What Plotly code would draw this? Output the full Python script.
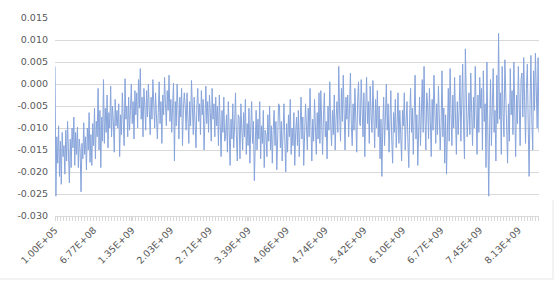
import plotly.graph_objects as go

# ---- data ----
TICK_LABELS = ["1.00E+05", "6.77E+08", "1.35E+09", "2.03E+09", "2.71E+09", "3.39E+09",
               "4.06E+09", "4.74E+09", "5.42E+09", "6.10E+09", "6.77E+09", "7.45E+09", "8.13E+09"]
Y_TICKS = [-0.030, -0.025, -0.020, -0.015, -0.010, -0.005, 0.000, 0.005, 0.010, 0.015]

X_START = 1.0e5
X_END = 8.49e9

VALUES = [
    # 1
    0.0040, -0.0255, -0.0120, -0.0180, -0.0095, -0.0210, -0.0130, -0.0228, -0.0110, -0.0165,
    -0.0140, -0.0205, -0.0105, -0.0175, -0.0085, -0.0155, -0.0225, -0.0125, -0.0190, -0.0100,
    -0.0145, -0.0075, -0.0185, -0.0110, -0.0160,
    -0.0098, -0.0190, -0.0125, -0.0150, -0.0245, -0.0135, -0.0170, -0.0088, -0.0160, -0.0120,
    -0.0195, -0.0100, -0.0150, -0.0065, -0.0178, -0.0115, -0.0185, -0.0090, -0.0140, -0.0055,
    # 2
    -0.0170, -0.0085, -0.0120, -0.0010, -0.0150, -0.0060, -0.0190, -0.0075, -0.0130, 0.0010,
    -0.0135, -0.0055, -0.0110, -0.0025, -0.0145, -0.0065, -0.0100, -0.0005, -0.0120, -0.0050,
    -0.0085, -0.0155, -0.0035, -0.0095, -0.0060,
    -0.0100, -0.0045, -0.0165, -0.0070, -0.0115, -0.0020, -0.0095, -0.0140, 0.0012, -0.0080,
    -0.0050, -0.0120, -0.0030, -0.0105, -0.0060, 0.0000, -0.0090, -0.0040, -0.0125, -0.0015,
    # 3
    -0.0070, -0.0020, -0.0100, 0.0010, -0.0055, 0.0035, -0.0080, -0.0030, -0.0120, -0.0010,
    -0.0050, -0.0105, -0.0015, -0.0075, 0.0000, -0.0060, -0.0115, -0.0030, -0.0080, 0.0010,
    -0.0045, -0.0100, -0.0020, -0.0065, -0.0125,
    -0.0065, 0.0005, -0.0090, -0.0040, -0.0135, -0.0025, -0.0070, 0.0015, -0.0045, -0.0095,
    -0.0015, -0.0060, 0.0020, -0.0085, -0.0035, -0.0110, -0.0050, 0.0002, -0.0175, -0.0040,
    # 4
    -0.0095, 0.0000, -0.0060, -0.0125, -0.0030, -0.0075, -0.0010, -0.0140, -0.0055, -0.0020,
    -0.0050, -0.0105, -0.0020, -0.0080, -0.0135, -0.0040, -0.0095, 0.0008, -0.0065, -0.0115,
    -0.0030, -0.0075, -0.0145, -0.0050, -0.0010,
    -0.0085, -0.0045, -0.0115, -0.0015, -0.0070, -0.0035, -0.0150, -0.0060, -0.0005, -0.0090,
    -0.0040, -0.0110, -0.0025, -0.0065, -0.0130, -0.0010, -0.0080, -0.0045, -0.0120, -0.0030,
    # 5
    -0.0095, -0.0050, -0.0140, -0.0025, -0.0085, -0.0165, -0.0060, -0.0110, -0.0030, -0.0130,
    -0.0120, -0.0070, -0.0155, -0.0040, -0.0105, -0.0185, -0.0080, -0.0125, -0.0045, -0.0145,
    -0.0095, -0.0020, -0.0115, -0.0175, -0.0070,
    -0.0075, -0.0170, -0.0045, -0.0100, -0.0150, -0.0065, -0.0120, -0.0035, -0.0160, -0.0090,
    -0.0140, -0.0055, -0.0180, -0.0100, -0.0040, -0.0135, -0.0085, -0.0220, -0.0110, -0.0060,
    # 6
    -0.0150, -0.0080, -0.0125, -0.0040, -0.0170, -0.0095, -0.0135, -0.0060, -0.0190, -0.0105,
    -0.0115, -0.0165, -0.0070, -0.0130, -0.0050, -0.0150, -0.0095, -0.0180, -0.0105, -0.0060,
    -0.0140, -0.0085, -0.0195, -0.0120, -0.0045,
    -0.0050, -0.0145, -0.0085, -0.0175, -0.0110, -0.0045, -0.0130, -0.0200, -0.0090, -0.0155,
    -0.0070, -0.0120, -0.0035, -0.0160, -0.0100, -0.0140, -0.0065, -0.0185, -0.0110, -0.0075,
    # 7
    -0.0140, -0.0060, -0.0165, -0.0090, -0.0030, -0.0125, -0.0075, -0.0185, -0.0100, -0.0045,
    -0.0095, -0.0150, -0.0055, -0.0120, -0.0010, -0.0100, -0.0175, -0.0080, -0.0130, -0.0035,
    -0.0110, -0.0160, -0.0065, -0.0125, -0.0020,
    -0.0135, -0.0015, -0.0110, -0.0160, -0.0070, -0.0020, -0.0120, -0.0085, -0.0170, -0.0050,
    -0.0105, 0.0005, -0.0090, -0.0140, -0.0060, -0.0115, -0.0025, -0.0150, -0.0080, -0.0040,
    # 8
    -0.0110, 0.0040, -0.0070, -0.0130, -0.0010, -0.0085, 0.0020, -0.0060, -0.0150, -0.0030,
    -0.0080, -0.0025, -0.0120, -0.0055, 0.0025, -0.0095, -0.0140, -0.0045, -0.0105, -0.0010,
    -0.0070, -0.0155, -0.0040, 0.0005, -0.0085,
    -0.0095, 0.0010, -0.0075, -0.0120, -0.0020, -0.0165, -0.0055, 0.0015, -0.0090, -0.0040,
    -0.0135, -0.0005, -0.0070, -0.0110, 0.0008, -0.0060, -0.0145, -0.0035, -0.0100, -0.0015,
    # 9
    -0.0120, -0.0050, -0.0170, -0.0080, -0.0210, -0.0100, -0.0030, -0.0140, -0.0065, 0.0000,
    -0.0105, -0.0045, -0.0155, -0.0075, -0.0015, -0.0125, -0.0180, -0.0065, -0.0110, -0.0035,
    -0.0145, -0.0090, -0.0020, -0.0135, -0.0060,
    -0.0115, -0.0175, -0.0060, -0.0095, -0.0020, -0.0150, -0.0085, -0.0040, -0.0130, -0.0190,
    -0.0070, -0.0010, -0.0110, -0.0055, -0.0160, -0.0090, 0.0020, -0.0125, -0.0070, -0.0185,
    # 10
    -0.0095, -0.0030, -0.0140, -0.0060, 0.0010, -0.0110, 0.0040, -0.0075, -0.0150, -0.0020,
    -0.0050, -0.0125, -0.0010, -0.0085, -0.0165, -0.0035, -0.0105, 0.0020, -0.0070, -0.0135,
    -0.0045, -0.0115, -0.0005, -0.0090, -0.0150,
    -0.0090, 0.0030, -0.0120, -0.0055, -0.0180, -0.0070, -0.0205, -0.0085, -0.0010, -0.0130,
    0.0035, -0.0065, -0.0140, -0.0025, -0.0100, 0.0015, -0.0080, -0.0160, -0.0040, -0.0115,
    # 11
    -0.0060, 0.0020, -0.0130, -0.0035, 0.0045, -0.0095, -0.0170, 0.0080, -0.0070, -0.0120,
    -0.0080, -0.0020, -0.0115, 0.0025, -0.0065, -0.0140, -0.0030, -0.0100, 0.0040, -0.0075,
    -0.0160, -0.0025, -0.0110, 0.0015, -0.0055,
    -0.0010, -0.0150, 0.0030, -0.0085, -0.0045, -0.0190, 0.0050, -0.0060, -0.0255, -0.0100,
    0.0010, -0.0140, -0.0040, 0.0035, -0.0110, -0.0060, -0.0175, 0.0020, -0.0090, 0.0115,
    # 12
    -0.0080, -0.0020, -0.0160, 0.0040, -0.0065, -0.0120, 0.0055, -0.0030, -0.0105, -0.0180,
    -0.0045, -0.0130, 0.0035, -0.0070, -0.0015, -0.0115, 0.0050, -0.0055, -0.0165, -0.0025,
    -0.0090, 0.0040, -0.0060, -0.0140, 0.0010,
    0.0025, -0.0075, 0.0060, -0.0040, -0.0135, -0.0010, 0.0045, -0.0095, -0.0210, -0.0050,
    0.0065, -0.0080, -0.0150, 0.0030, -0.0060, 0.0070, -0.0020, -0.0100, 0.0060, -0.0110,
]

# ---- build ----
n = len(VALUES)
step = (X_END - X_START) / (n - 1)
xs = [X_START + i * step for i in range(n)]
tickvals = [float(t) for t in TICK_LABELS]

GRID = "#d9d9d9"
TEXT = "#595959"
FONT = "DejaVu Sans"
FS = 9.5

fig = go.Figure()
# invisible carrier so the minor-tick axis is drawn
fig.add_trace(go.Scatter(x=[X_START, X_END], y=[Y_TICKS[0], Y_TICKS[0]], mode="lines",
                         line=dict(width=0), opacity=0, xaxis="x2", hoverinfo="skip"))
fig.add_trace(go.Scatter(x=xs, y=VALUES, mode="lines",
                         line=dict(color="#87A4DB", width=1), hoverinfo="skip"))

W, H = 556, 283
L, R, T, B = 55, 17, 15, 67

fig.update_layout(
    width=W, height=H,
    margin=dict(l=L, r=R, t=T, b=B, pad=0),
    paper_bgcolor="white", plot_bgcolor="white",
    showlegend=False,
    font=dict(family=FONT, size=FS, color=TEXT),
    xaxis=dict(
        range=[X_START, X_END],
        tickmode="array", tickvals=tickvals, ticktext=TICK_LABELS,
        tickangle=-45,
        showgrid=False, zeroline=False,
        showline=True, linecolor=GRID, linewidth=1,
        ticks="outside", ticklen=4, tickcolor=GRID, tickwidth=1,
        tickfont=dict(family=FONT, size=FS, color=TEXT),
    ),
    xaxis2=dict(
        range=[X_START, X_END], overlaying="x", anchor="y", side="bottom",
        tickmode="linear", tick0=X_START, dtick=tickvals[1] / 13,
        ticks="outside", ticklen=4, tickcolor=GRID, tickwidth=1,
        showticklabels=False, showgrid=False, zeroline=False, showline=False,
    ),
    yaxis=dict(
        range=[Y_TICKS[0], Y_TICKS[-1]],
        tickmode="array", tickvals=Y_TICKS, ticktext=[f"{v:.3f}" for v in Y_TICKS],
        showgrid=True, gridcolor=GRID, gridwidth=1,
        zeroline=False, showline=False, ticks="",
        ticklabelstandoff=6,
        tickfont=dict(family=FONT, size=FS, color=TEXT),
    ),
)
fig.update_xaxes(tickangle=-45, selector=dict(anchor="y"))
fig.layout.xaxis.tickangle = -45

# faint chart-area border (bottom edge and lower right edge)
pw, ph = W - L - R, H - T - B
xr = (553 - L) / pw
yb = (H - B - 280) / ph
fig.add_shape(type="line", xref="paper", yref="paper", x0=xr, x1=xr, y0=yb, y1=(H - B - 200) / ph,
              line=dict(color="#e6e6e6", width=1))
fig.add_shape(type="line", xref="paper", yref="paper", x0=-L / pw, x1=xr, y0=yb, y1=yb,
              line=dict(color="#e6e6e6", width=1))

fig.write_html("out.html")
